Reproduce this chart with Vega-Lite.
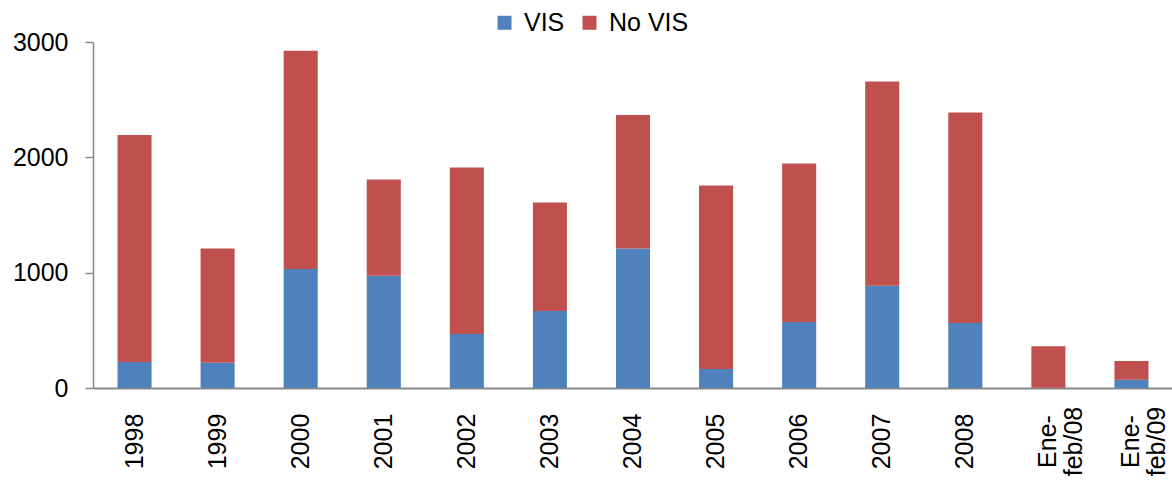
{
  "$schema": "https://vega.github.io/schema/vega-lite/v6.json",
  "width": 1080,
  "height": 346,
  "autosize": {"type": "none"},
  "padding": {"left": 93, "top": 42, "right": 0, "bottom": 102},
  "background": "white",
  "config": {
    "font": "Liberation Sans",
    "view": {"stroke": null}
  },
  "data": {
    "values": [
      {"cat": "1998", "serie": "VIS", "ord": 1, "v": 225},
      {"cat": "1998", "serie": "No VIS", "ord": 2, "v": 1969},
      {"cat": "1999", "serie": "VIS", "ord": 1, "v": 219},
      {"cat": "1999", "serie": "No VIS", "ord": 2, "v": 991},
      {"cat": "2000", "serie": "VIS", "ord": 1, "v": 1031},
      {"cat": "2000", "serie": "No VIS", "ord": 2, "v": 1894},
      {"cat": "2001", "serie": "VIS", "ord": 1, "v": 973},
      {"cat": "2001", "serie": "No VIS", "ord": 2, "v": 835},
      {"cat": "2002", "serie": "VIS", "ord": 1, "v": 468},
      {"cat": "2002", "serie": "No VIS", "ord": 2, "v": 1444},
      {"cat": "2003", "serie": "VIS", "ord": 1, "v": 667},
      {"cat": "2003", "serie": "No VIS", "ord": 2, "v": 941},
      {"cat": "2004", "serie": "VIS", "ord": 1, "v": 1210},
      {"cat": "2004", "serie": "No VIS", "ord": 2, "v": 1158},
      {"cat": "2005", "serie": "VIS", "ord": 1, "v": 165},
      {"cat": "2005", "serie": "No VIS", "ord": 2, "v": 1591},
      {"cat": "2006", "serie": "VIS", "ord": 1, "v": 572},
      {"cat": "2006", "serie": "No VIS", "ord": 2, "v": 1374},
      {"cat": "2007", "serie": "VIS", "ord": 1, "v": 886},
      {"cat": "2007", "serie": "No VIS", "ord": 2, "v": 1771},
      {"cat": "2008", "serie": "VIS", "ord": 1, "v": 563},
      {"cat": "2008", "serie": "No VIS", "ord": 2, "v": 1825},
      {"cat": "Ene-feb/08", "serie": "VIS", "ord": 1, "v": 3},
      {"cat": "Ene-feb/08", "serie": "No VIS", "ord": 2, "v": 358},
      {"cat": "Ene-feb/09", "serie": "VIS", "ord": 1, "v": 72},
      {"cat": "Ene-feb/09", "serie": "No VIS", "ord": 2, "v": 162}
    ]
  },
  "mark": {"type": "bar"},
  "encoding": {
    "x": {
      "field": "cat",
      "type": "nominal",
      "sort": null,
      "scale": {"paddingInner": 0.59, "paddingOuter": 0.295},
      "axis": {
        "title": null,
        "labelAngle": -90,
        "labelAlign": "center",
        "labelBaseline": "middle",
        "labelFontSize": 25,
        "labelColor": "black",
        "labelPadding": 53,
        "labelOverlap": false,
        "labelBound": false,
        "ticks": false,
        "domainColor": "#888888",
        "domainWidth": 2,
        "labelExpr": "datum.label == 'Ene-feb/08' ? ['Ene-', 'feb/08'] : datum.label == 'Ene-feb/09' ? ['Ene-', 'feb/09'] : datum.label",
        "labelLineHeight": 26
      }
    },
    "y": {
      "field": "v",
      "type": "quantitative",
      "stack": "zero",
      "scale": {"domain": [0, 3000], "nice": false},
      "axis": {
        "title": null,
        "values": [0, 1000, 2000, 3000],
        "format": "d",
        "grid": false,
        "labelFontSize": 25,
        "labelColor": "black",
        "labelPadding": 17,
        "tickSize": 8,
        "tickColor": "#888888",
        "tickWidth": 1.5,
        "domainColor": "#888888",
        "domainWidth": 1.5
      }
    },
    "color": {
      "field": "serie",
      "type": "nominal",
      "scale": {"domain": ["VIS", "No VIS"], "range": ["#4F81BD", "#C0504D"]},
      "legend": {
        "title": null,
        "orient": "none",
        "direction": "horizontal",
        "legendX": 399,
        "legendY": -32,
        "symbolType": "square",
        "symbolSize": 196,
        "symbolStrokeWidth": 0,
        "labelFontSize": 25,
        "labelColor": "black",
        "labelOffset": 7,
        "columnPadding": 12
      }
    },
    "order": {"field": "ord", "type": "quantitative"}
  }
}
